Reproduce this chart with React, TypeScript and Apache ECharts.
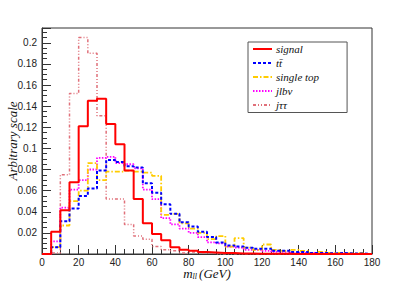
import React, { useEffect, useRef } from "react";
import * as echarts from "echarts";

// lower edges of the 5 GeV bins
const binLow = [
  0, 5, 10, 15, 20, 25, 30, 35, 40, 45, 50, 55, 60, 65, 70, 75, 80, 85,
  90, 95, 100, 105, 110, 115, 120, 125, 130, 135, 140, 145, 150, 155, 160, 165, 170, 175,
];
const xMax = 180;

const signal = [
  0, 0.021, 0.0415, 0.068, 0.121, 0.145, 0.147, 0.123, 0.104, 0.079, 0.052, 0.029,
  0.019, 0.013, 0.0065, 0.004, 0.003, 0.002, 0.0015, 0.001, 0.001, 0.0005, 0.0005, 0.0003,
  0.0003, 0.0002, 0.0002, 0, 0, 0, 0, 0, 0, 0, 0, 0,
];
const ttbar = [
  0, 0.0065, 0.031, 0.043, 0.055, 0.062, 0.079, 0.089, 0.087, 0.083, 0.082, 0.067,
  0.058, 0.047, 0.038, 0.03, 0.026, 0.021, 0.016, 0.011, 0.008, 0.007, 0.006, 0.005,
  0.005, 0.003, 0.003, 0.002, 0.002, 0.001, 0.001, 0.0005, 0.001, 0.0005, 0.0005, 0,
];
const singleTop = [
  0, 0.0065, 0.027, 0.05, 0.06, 0.086, 0.07, 0.078, 0.078, 0.079, 0.078, 0.077,
  0.074, 0.037, 0.038, 0.029, 0.024, 0.02, 0.014, 0.017, 0.007, 0.015, 0.006, 0.004,
  0.009, 0.004, 0.003, 0.004, 0.003, 0.001, 0.002, 0.001, 0.001, 0.0005, 0.001, 0,
];
const jlbnu = [
  0, 0.012, 0.044, 0.061, 0.07, 0.08, 0.091, 0.092, 0.086, 0.085, 0.081, 0.061,
  0.052, 0.034, 0.028, 0.024, 0.02, 0.016, 0.011, 0.01, 0.007, 0.006, 0.004, 0.004,
  0.003, 0.002, 0.002, 0.001, 0.001, 0.001, 0.0005, 0.0005, 0.0005, 0, 0, 0,
];
const jtautau = [
  0, 0.001, 0.075, 0.152, 0.205, 0.19, 0.131, 0.052, 0.052, 0.028, 0.017, 0.014,
  0.007, 0.004, 0.003, 0.001, 0.002, 0.001, 0.001, 0, 0, 0, 0, 0,
  0, 0, 0, 0, 0, 0, 0, 0, 0, 0, 0, 0,
];

const seriesNames = ["signal", "tt\u0304", "single top", "jlb\u03bd", "j\u03c4\u03c4"];

function steps(vals: number[]) {
  const pts = binLow.map((x, i) => [x, vals[i]]);
  pts.push([xMax, vals[vals.length - 1]]);
  return pts;
}

export default function App() {
  const ref = useRef<HTMLDivElement>(null);
  useEffect(() => {
    if (!ref.current) return;
    const chart = echarts.init(ref.current, undefined, { renderer: "svg" });
    const serif = "Liberation Serif";
    const sans = "Liberation Sans";
    const mk = (
      name: string,
      vals: number[],
      color: string,
      width: number,
      type: any,
      z: number
    ) => ({
      name,
      type: "line",
      step: "end",
      data: steps(vals),
      symbol: "none",
      showSymbol: false,
      z,
      lineStyle: { color, width, type },
      itemStyle: { color },
    });
    chart.setOption({
      animation: false,
      grid: {
        left: 42,
        top: 28,
        right: 43,
        bottom: 28,
        show: true,
        borderColor: "#333",
        borderWidth: 1,
        backgroundColor: "transparent",
        containLabel: false,
        outerBoundsMode: "none",
      },
      legend: {
        orient: "vertical",
        left: 248,
        top: 42,
        padding: [1.5, 28, 2, 4],
        itemWidth: 19,
        itemHeight: 11,
        itemGap: 3,
        borderColor: "#555",
        borderWidth: 1,
        backgroundColor: "#fff",
        data: seriesNames,
        itemStyle: { color: "rgba(0,0,0,0)", borderWidth: 0, opacity: 0 },
        textStyle: {
          fontFamily: serif,
          fontStyle: "italic",
          fontSize: 11,
          color: "#111",
          padding: [0, 0, 0, -1],
        },
      },
      xAxis: {
        type: "value",
        min: 0,
        max: 180,
        interval: 20,
        name: "{i|m}{s|ll}{i|(GeV)}",
        nameLocation: "middle",
        nameGap: 13,
        nameMoveOverlap: false,
        nameTextStyle: {
          lineHeight: 13,
          rich: {
            i: { fontFamily: serif, fontStyle: "italic", fontSize: 13, color: "#111", lineHeight: 13 },
            s: {
              fontFamily: serif,
              fontStyle: "italic",
              fontSize: 8,
              color: "#111",
              lineHeight: 4,
              verticalAlign: "bottom",
              padding: [0, 2, 0, 0],
            },
          },
        },
        axisLine: { show: true, lineStyle: { color: "#333", width: 1 } },
        axisTick: { show: true, inside: true, length: 9, lineStyle: { color: "#333" } },
        minorTick: { show: true, splitNumber: 4, length: 5, lineStyle: { color: "#333" } },
        splitLine: { show: false },
        minorSplitLine: { show: false },
        axisLabel: { fontFamily: sans, fontSize: 10, lineHeight: 10, color: "#222", margin: 3 },
      },
      yAxis: {
        type: "value",
        min: 0,
        max: 0.214,
        interval: 0.02,
        name: "Arbitrary scale",
        nameLocation: "middle",
        nameGap: 23,
        nameRotate: 90,
        nameMoveOverlap: false,
        nameTextStyle: { fontFamily: serif, fontStyle: "italic", fontSize: 13, color: "#111" },
        axisLine: { show: true, lineStyle: { color: "#333", width: 1 } },
        axisTick: { show: true, inside: true, length: 9, lineStyle: { color: "#333" } },
        minorTick: { show: true, splitNumber: 4, length: 5, lineStyle: { color: "#333" } },
        splitLine: { show: false },
        minorSplitLine: { show: false },
        axisLabel: {
          fontFamily: sans,
          fontSize: 10,
          color: "#222",
          margin: 5,
          formatter: (v: number) => {
            if (v <= 0) return "";
            const r = Math.round(v / 0.02);
            if (Math.abs(r * 0.02 - v) > 1e-6) return "";
            return String(parseFloat((r * 0.02).toFixed(3)));
          },
        },
      },
      series: [
        mk(seriesNames[0], signal, "#ff0000", 2, "solid", 5),
        mk(seriesNames[1], ttbar, "#0000ff", 2, [3, 2], 4),
        mk(seriesNames[2], singleTop, "#ffcc00", 1.8, [5, 2, 1.5, 2], 3),
        mk(seriesNames[3], jlbnu, "#ff00ff", 1.8, [1.5, 1.5], 2),
        mk(seriesNames[4], jtautau, "#e0707a", 1.5, [3, 2, 1, 2, 1, 2], 1),
      ],
    });
    return () => chart.dispose();
  }, []);
  return (
    <div
      ref={ref}
      style={{ position: "fixed", left: 0, top: 0, width: 415, height: 282, background: "#fff" }}
    />
  );
}
